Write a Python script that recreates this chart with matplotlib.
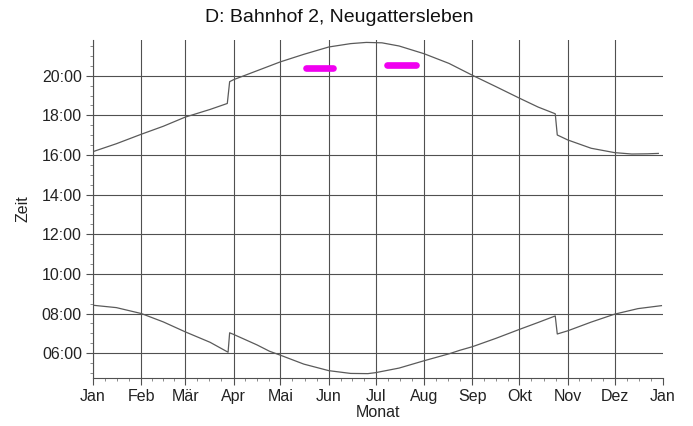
import matplotlib
matplotlib.use('Agg')
import matplotlib.pyplot as plt
from matplotlib.ticker import FixedLocator, FuncFormatter, MultipleLocator

plt.rcParams['font.family'] = ['Liberation Sans', 'DejaVu Sans']

# Tage seit 1. Jan, Zeit in Stunden
month_days = [0, 31, 59, 90, 120, 151, 181, 212, 243, 273, 304, 334, 365]
month_names = ['Jan', 'Feb', 'Mär', 'Apr', 'Mai', 'Jun', 'Jul', 'Aug',
               'Sep', 'Okt', 'Nov', 'Dez', 'Jan']

sunset_day = [0, 15, 31, 45, 59, 75, 86, 87.5, 90, 105, 120, 135, 151, 165,
              175, 185, 196, 212, 228, 243, 258, 273, 285, 296, 297.3, 304,
              319, 334, 345, 355, 362]
sunset_h = [16.17, 16.57, 17.05, 17.45, 17.91, 18.30, 18.60, 19.70, 19.80,
            20.25, 20.70, 21.08, 21.45, 21.62, 21.68, 21.66, 21.50, 21.11,
            20.62, 20.02, 19.45, 18.87, 18.42, 18.08, 17.01, 16.76, 16.34,
            16.12, 16.05, 16.06, 16.08]

sunrise_day = [0, 15, 31, 45, 59, 75, 86.5, 87.5, 90, 105, 113, 120, 135,
               151, 165, 176, 181, 196, 212, 228, 235, 243, 258, 273, 285,
               296, 297.3, 304, 319, 334, 349, 364]
sunrise_h = [8.42, 8.30, 8.00, 7.58, 7.08, 6.55, 6.05, 7.03, 6.95, 6.42,
             6.10, 5.90, 5.45, 5.12, 4.98, 4.97, 5.02, 5.25, 5.62, 5.97,
             6.15, 6.33, 6.75, 7.20, 7.55, 7.88, 6.97, 7.13, 7.57, 7.97,
             8.25, 8.40]

# markierte Abschnitte (magenta)
mark_start = [136.5, 188]
mark_end = [154, 207]
mark_h = [20.38, 20.53]

fig = plt.figure(figsize=(6.93, 4.26), dpi=100)
ax = fig.add_axes([0.1342, 0.1127, 0.8225, 0.7933])

gc = '#505050'
ax.plot(sunset_day, sunset_h, color='#5a5a5a', lw=0.9)
ax.plot(sunrise_day, sunrise_h, color='#5a5a5a', lw=0.9)
for s, e, h in zip(mark_start, mark_end, mark_h):
    ax.plot([s, e], [h, h], color='#f000f0', lw=4.8, solid_capstyle='round')

ax.set_xlim(0, 365)
ax.set_ylim(4.75, 21.8)

ax.xaxis.set_major_locator(FixedLocator(month_days))
ax.set_xticklabels(month_names)
minor = []
for a, b in zip(month_days[:-1], month_days[1:]):
    minor += [a + (b - a) * k / 4 for k in (1, 2, 3)]
ax.xaxis.set_minor_locator(FixedLocator(minor))

ax.yaxis.set_major_locator(FixedLocator([6, 8, 10, 12, 14, 16, 18, 20]))
ax.yaxis.set_major_formatter(FuncFormatter(lambda v, p: '%02d:00' % int(round(v))))
ax.yaxis.set_minor_locator(MultipleLocator(0.5))

ax.grid(True, which='major', color=gc, lw=0.8)
ax.set_axisbelow(True)
for sp in ['top', 'right']:
    ax.spines[sp].set_visible(False)
for sp in ['left', 'bottom']:
    ax.spines[sp].set_color(gc)
    ax.spines[sp].set_linewidth(0.8)

ax.tick_params(which='major', length=5, width=0.8, color=gc, labelsize=11.5,
               pad=3, labelcolor='#222222')
ax.tick_params(which='minor', length=2.5, width=0.6, color='#777777')

fig.canvas.draw()
ax.get_xgridlines()[-1].set_visible(False)

ax.set_xlabel('Monat', fontsize=11.5, color='#222222', labelpad=1)
ax.set_ylabel('Zeit', fontsize=11.5, color='#222222', labelpad=8)
fig.text(0.49, 0.958, 'D: Bahnhof 2, Neugattersleben', ha='center',
         va='center', fontsize=14, color='#111111')

fig.savefig('out.png', dpi=100)
